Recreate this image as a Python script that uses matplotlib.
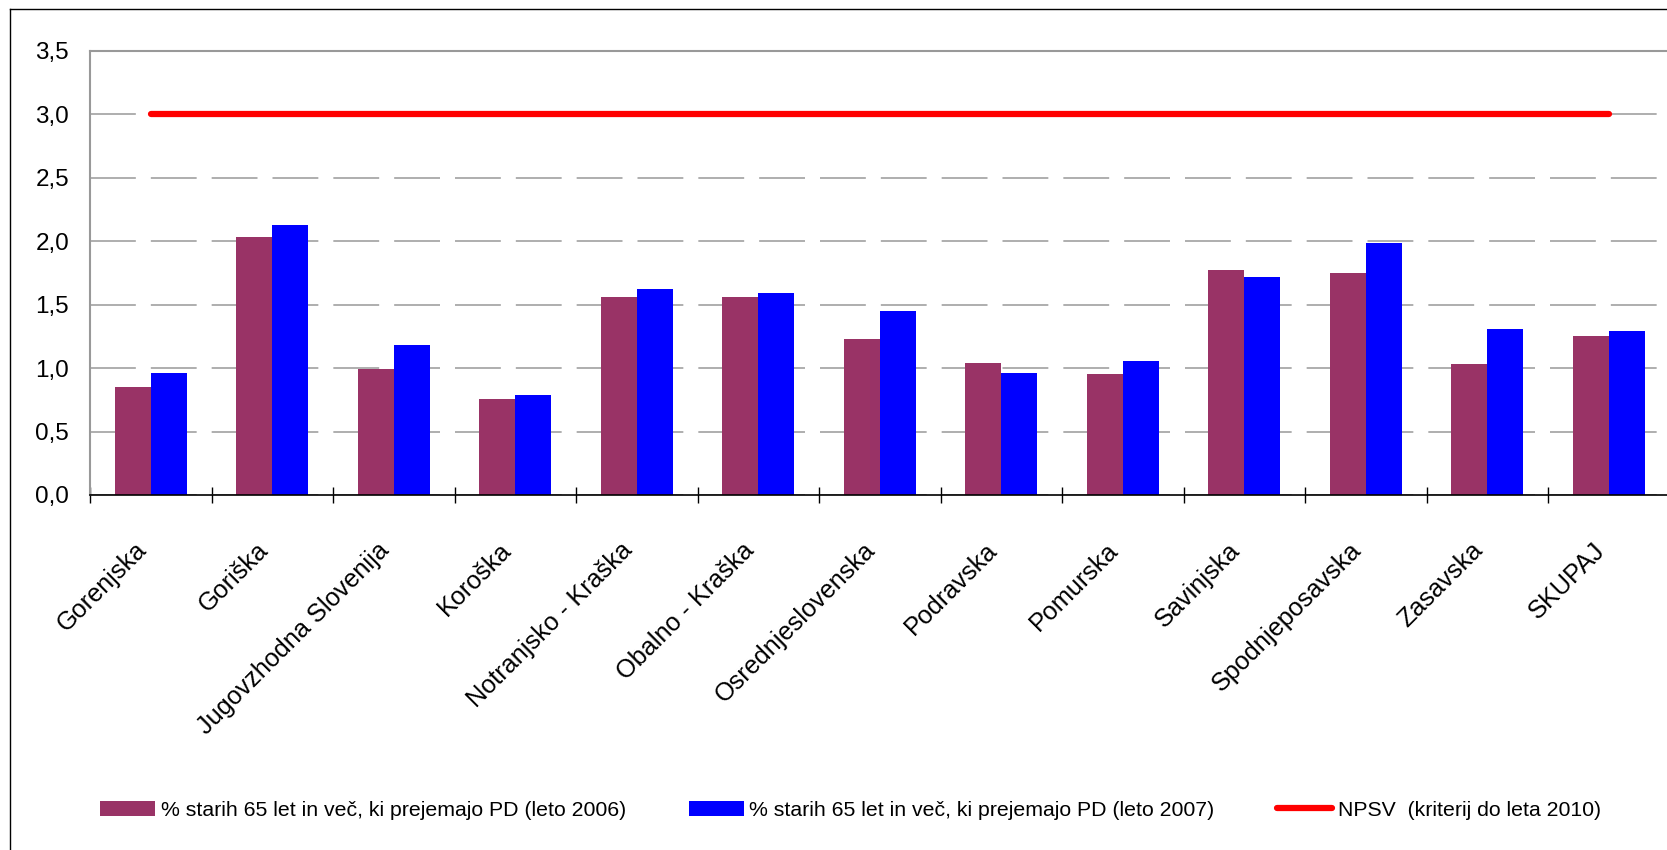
import matplotlib
matplotlib.use('Agg')
import matplotlib.pyplot as plt
import matplotlib.transforms as mtransforms
from matplotlib.lines import Line2D
from matplotlib.patches import Patch
from matplotlib.ticker import FuncFormatter
import numpy as np

plt.rcParams['font.family'] = ['Liberation Sans', 'DejaVu Sans']
plt.rcParams['lines.scale_dashes'] = False

# podatki
regije = ['Gorenjska', 'Goriška', 'Jugovzhodna Slovenija', 'Koroška',
          'Notranjsko - Kraška', 'Obalno - Kraška', 'Osrednjeslovenska',
          'Podravska', 'Pomurska', 'Savinjska', 'Spodnjeposavska',
          'Zasavska', 'SKUPAJ']
leto_2006 = [0.85, 2.03, 0.99, 0.76, 1.56, 1.56, 1.23, 1.04, 0.95, 1.77, 1.75, 1.03, 1.25]
leto_2007 = [0.96, 2.13, 1.18, 0.79, 1.62, 1.59, 1.45, 0.96, 1.06, 1.72, 1.99, 1.31, 1.29]
npsv = [3.0, 3.0, 3.0, 3.0, 3.0, 3.0, 3.0, 3.0, 3.0, 3.0, 3.0, 3.0, 3.0]
y_ticks = [0.0, 0.5, 1.0, 1.5, 2.0, 2.5, 3.0, 3.5]
oznake = ['% starih 65 let in več, ki prejemajo PD (leto 2006)',
          '% starih 65 let in več, ki prejemajo PD (leto 2007)',
          'NPSV  (kriterij do leta 2010)']

c2006 = '#993366'
c2007 = '#0000FF'
cred = '#FF0000'

W, H = 1667, 850
fig = plt.figure(figsize=(W / 100, H / 100), dpi=100)
ax = fig.add_axes([90 / W, 355 / H, 1579.5 / W, 444 / H])

x = np.arange(len(regije))
w = 0.296
ax.bar(x - w / 2, leto_2006, w, color=c2006, zorder=2)
ax.bar(x + w / 2, leto_2007, w, color=c2007, zorder=2)
ax.plot(x, npsv, color=cred, lw=4.5, solid_capstyle='round', zorder=3)

ax.set_xlim(-0.5, len(regije) - 0.5)
ax.set_ylim(0, 3.5)
ax.set_yticks(y_ticks)
ax.yaxis.set_major_formatter(FuncFormatter(lambda v, p: ('%.1f' % v).replace('.', ',')))
ax.tick_params(axis='y', length=0, pad=15, labelsize=17.5)

ax.set_axisbelow(True)
ax.yaxis.grid(True, color='#999999', lw=1.1, linestyle=(0, (33, 10.8)))

ax.set_xticks(x)
ax.set_xticklabels(regije, fontsize=18.2)
ax.set_xticks(np.arange(-0.5, len(regije), 1), minor=True)
ax.tick_params(axis='x', which='major', length=0, pad=37)
ax.tick_params(axis='x', which='minor', length=11.5, width=1, direction='inout', color='black')
offset = mtransforms.ScaledTranslation(-8 / 100, 0, fig.dpi_scale_trans)
for lab in ax.get_xticklabels():
    lab.set_rotation(45)
    lab.set_ha('right')
    lab.set_va('center')
    lab.set_rotation_mode('anchor')
    lab.set_transform(lab.get_transform() + offset)

for s in ['top', 'left']:
    ax.spines[s].set_color('#999999')
    ax.spines[s].set_linewidth(1.5)
ax.spines['bottom'].set_color('black')
ax.spines['bottom'].set_linewidth(1.2)
ax.spines['right'].set_visible(False)

# okvir grafikona
fig.add_artist(Line2D([10 / W, 10 / W], [0, 1 - 9 / H], transform=fig.transFigure, color='black', lw=1))
fig.add_artist(Line2D([10 / W, 1], [1 - 9 / H, 1 - 9 / H], transform=fig.transFigure, color='black', lw=1))

handles = [Patch(facecolor=c2006, edgecolor='none'),
           Patch(facecolor=c2007, edgecolor='none'),
           Line2D([], [], color=cred, lw=4.5, solid_capstyle='round')]
fig.legend(handles, oznake, loc='center left', bbox_to_anchor=(100 / W, 1 - 810 / H),
           ncol=3, frameon=False, fontsize=15.3, handlelength=2.6, handleheight=0.7,
           handletextpad=0.25, columnspacing=2.95, borderpad=0, borderaxespad=0)

fig.savefig('out.png', dpi=100)
